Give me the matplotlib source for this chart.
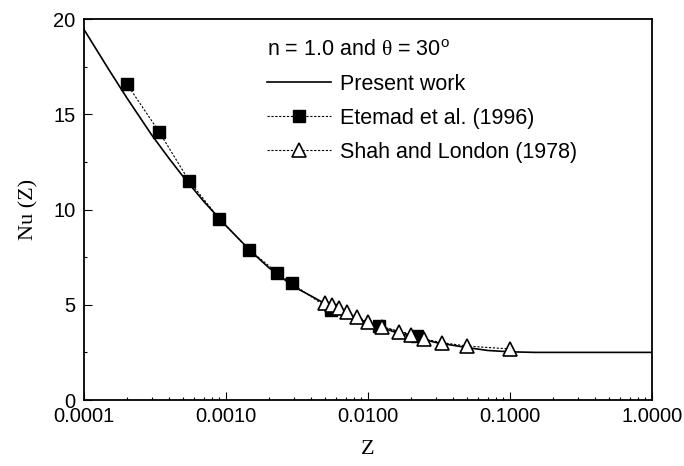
import matplotlib
matplotlib.use("Agg")
import matplotlib.pyplot as plt
from matplotlib.ticker import FixedLocator, FuncFormatter, MultipleLocator, LogLocator, NullFormatter

plt.rcParams['font.family'] = ['Liberation Sans', 'DejaVu Sans']
plt.rcParams['mathtext.fontset'] = 'custom'
plt.rcParams['mathtext.rm'] = 'Liberation Serif'
plt.rcParams['mathtext.sf'] = 'Liberation Sans'

# present work (solid curve)
z_present = [1e-4, 1.5e-4, 2e-4, 3e-4, 4e-4, 5e-4, 7e-4, 1e-3, 1.5e-3, 2e-3,
             3e-3, 4e-3, 5e-3, 7e-3, 0.01, 0.015, 0.02, 0.03, 0.05, 0.07,
             0.1, 0.15, 0.3, 1.0]
nu_present = [19.45, 17.33, 15.87, 13.91, 12.65, 11.72, 10.41, 9.15, 7.8, 6.95,
              5.95, 5.45, 5.05, 4.55, 4.05, 3.6, 3.35, 3.02, 2.75, 2.6,
              2.53, 2.5, 2.5, 2.5]

# Etemad et al. (1996)
z_etemad = [0.0002, 0.00034, 0.00055, 0.0009, 0.00145, 0.0023, 0.0029,
            0.0055, 0.012, 0.022]
nu_etemad = [16.6, 14.05, 11.5, 9.5, 7.9, 6.68, 6.12, 4.72, 3.87, 3.38]

# Shah and London (1978)
z_shah = [1/200, 1/180, 1/160, 1/140, 1/120, 1/100, 1/80, 1/60, 1/50, 1/40,
          1/30, 1/20, 1/10]
nu_shah = [5.11, 4.99, 4.85, 4.64, 4.37, 4.11, 3.85, 3.59, 3.41, 3.2,
           3.01, 2.83, 2.68]

x_ticks = [0.0001, 0.001, 0.01, 0.1, 1.0]

fig = plt.figure(figsize=(6.84, 4.66), dpi=100)
ax = fig.add_axes([0.1228, 0.1416, 0.8304, 0.8176])

ax.plot(z_present, nu_present, color='black', lw=1.2, label='Present work')
ax.plot(z_etemad, nu_etemad, color='black', lw=0.8, ls=(0, (2, 1.5)),
        marker='s', ms=9, mfc='black', mec='black', label='Etemad et al. (1996)')
ax.plot(z_shah, nu_shah, color='black', lw=0.8, ls=(0, (2, 1.5)),
        marker='^', ms=9.5, mfc='white', mec='black', mew=1.2,
        label='Shah and London (1978)')

ax.set_xscale('log')
ax.set_xlim(1e-4, 1.0)
ax.set_ylim(0, 20)

ax.xaxis.set_major_locator(FixedLocator(x_ticks))
ax.xaxis.set_major_formatter(FuncFormatter(lambda v, p: '%.4f' % v))
ax.xaxis.set_minor_locator(LogLocator(base=10, subs=range(2, 10)))
ax.xaxis.set_minor_formatter(NullFormatter())
ax.yaxis.set_major_locator(MultipleLocator(5))
ax.yaxis.set_minor_locator(MultipleLocator(2.5))

ax.tick_params(which='both', direction='in', top=False, right=False,
               labelsize=14.5, width=0.8)
ax.tick_params(which='major', length=5.5)
ax.tick_params(which='minor', length=2.5)
ax.tick_params(axis='x', which='major', pad=5)
ax.tick_params(axis='y', which='major', pad=6)
for s in ax.spines.values():
    s.set_linewidth(1.3)

ax.set_xlabel('Z', family='Liberation Serif', fontsize=16)
ax.set_ylabel('Nu (Z)', family='Liberation Serif', fontsize=16)
ax.xaxis.set_label_coords(0.5, -0.105)
ax.yaxis.set_label_coords(-0.08, 0.5)

leg = ax.legend(loc='upper left', bbox_to_anchor=(0.322, 0.945), frameon=False,
                title=r'n = 1.0 and $\mathrm{\theta}$ = 30$^{\mathsf{o}}$',
                fontsize=15.5, title_fontsize=15.5, alignment='left',
                handlelength=3.0, handletextpad=0.4, labelspacing=0.6,
                borderpad=0, borderaxespad=0)

fig.savefig('out.png', dpi=100)
